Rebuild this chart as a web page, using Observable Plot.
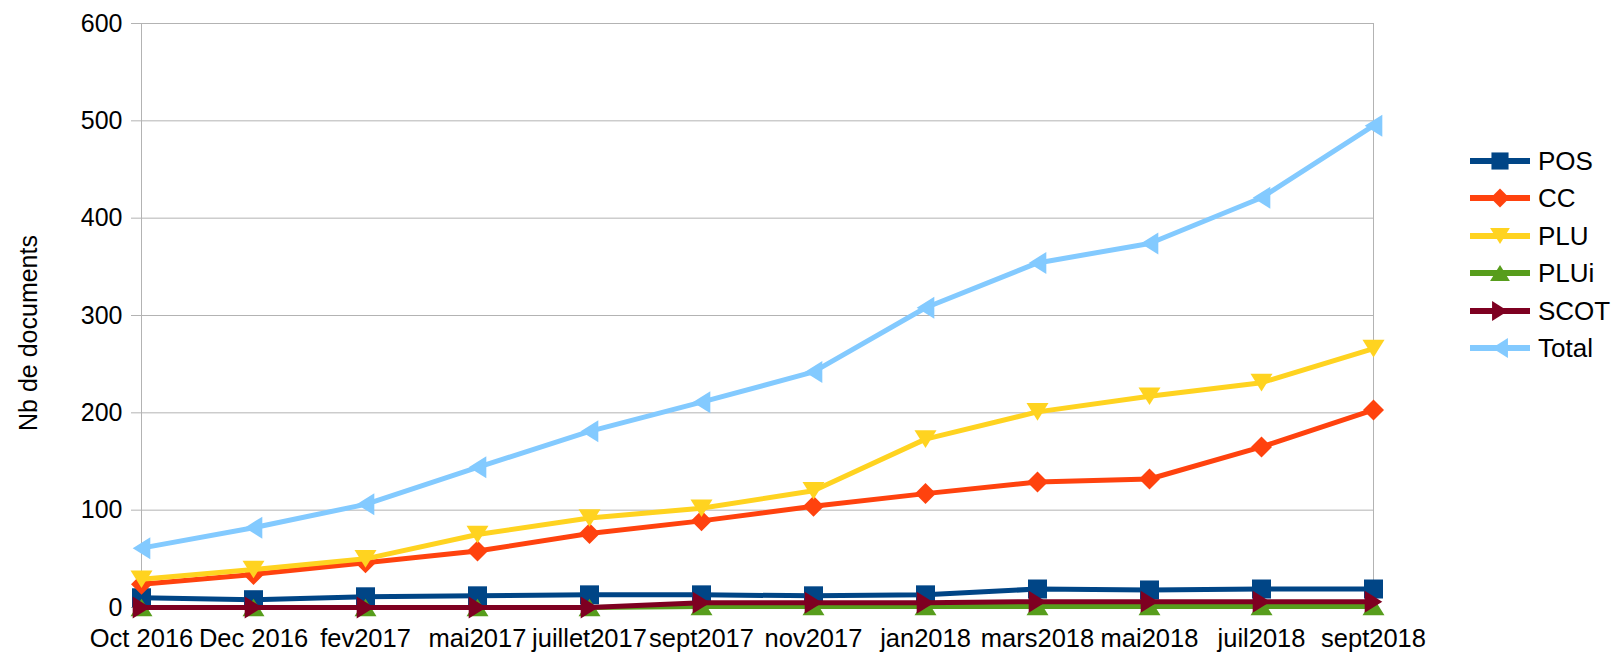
<!DOCTYPE html>
<html><head><meta charset="utf-8">
<script src="https://cdn.jsdelivr.net/npm/d3@7"></script>
<script src="https://cdn.jsdelivr.net/npm/@observablehq/plot@0.6"></script>
<style>
body{margin:0;background:#fff;}
#wrap{position:relative;width:1622px;height:660px;font-family:"Liberation Sans",Arial,sans-serif;color:#000;}
#ytitle{position:absolute;left:28px;top:333px;transform:translate(-50%,-50%) rotate(-90deg);font-size:25px;white-space:nowrap;}
.lrow{position:absolute;left:1470px;height:30px;display:flex;align-items:center;font-size:26px;}
.lrow svg{margin-right:8px;}
</style></head><body><div id="wrap"></div>
<script>
const months = ["Oct 2016","Dec 2016","fev2017","mai2017","juillet2017","sept2017","nov2017","jan2018","mars2018","mai2018","juil2018","sept2018"];
const POS   = [10, 8, 11, 12, 13, 13, 12, 13, 19, 18, 19, 19];
const CC    = [24, 34, 46, 58, 76, 89, 104, 117, 129, 132, 165, 203];
const PLU   = [29, 39, 50, 75, 92, 102, 120, 173, 201, 217, 231, 266];
const PLUi  = [0, 0, 0, 0, 0, 1, 1, 1, 1, 1, 1, 1];
const SCOT  = [0, 0, 0, 0, 0, 5, 5, 5, 6, 6, 6, 6];
const Total = [61, 82, 106, 144, 181, 211, 242, 308, 354, 374, 421, 495];
const seriesNames = ["POS","CC","PLU","PLUi","SCOT","Total"];
const seriesValues = [POS, CC, PLU, PLUi, SCOT, Total];
const colors = ["#004586","#ff420e","#ffd320","#579d1c","#7e0021","#83caff"];
const yTicks = [0,100,200,300,400,500,600];

const rad = s => Math.sqrt(s/Math.PI);
const symbols = {
  square:{draw(c,s){const r=rad(s);c.rect(-r,-r,2*r,2*r);}},
  diamond:{draw(c,s){const r=rad(s);c.moveTo(0,-r);c.lineTo(r,0);c.lineTo(0,r);c.lineTo(-r,0);c.closePath();}},
  down:{draw(c,s){const r=rad(s);c.moveTo(-r,-0.8*r);c.lineTo(r,-0.8*r);c.lineTo(0,0.8*r);c.closePath();}},
  up:{draw(c,s){const r=rad(s);c.moveTo(-r,0.8*r);c.lineTo(r,0.8*r);c.lineTo(0,-0.8*r);c.closePath();}},
  right:{draw(c,s){const r=rad(s);c.moveTo(-0.8*r,-r);c.lineTo(-0.8*r,r);c.lineTo(0.8*r,0);c.closePath();}},
  left:{draw(c,s){const r=rad(s);c.moveTo(0.8*r,-r);c.lineTo(0.8*r,r);c.lineTo(-0.8*r,0);c.closePath();}}
};
const symKeys = ["square","diamond","down","up","right","left"];
const symR = [9.5, 10.5, 11, 11, 11, 11];

const data = seriesNames.flatMap((s,k)=>months.map((m,i)=>({series:s, month:m, value:seriesValues[k][i]})));

const marks = [
  Plot.gridY(yTicks, {stroke:"#b3b3b3", strokeOpacity:1}),
  Plot.ruleX([months[0], months[months.length-1]], {stroke:"#b3b3b3"}),
  Plot.axisY(yTicks, {tickSize:9, tickPadding:9, stroke:"#b3b3b3", label:null, fontSize:25}),
  Plot.axisX({tickSize:7, tickPadding:14, stroke:"#b3b3b3", label:null, fontSize:25.5})
];
seriesNames.forEach((s,k)=>{
  const d = data.filter(e=>e.series===s);
  marks.push(Plot.line(d,{x:"month",y:"value",stroke:colors[k],strokeWidth:5}));
  marks.push(Plot.dot(d,{x:"month",y:"value",fill:colors[k],stroke:"none",r:symR[k],symbol:symbols[symKeys[k]]}));
});

const chart = Plot.plot({
  width:1622, height:660,
  marginLeft:140, marginRight:248, marginTop:23, marginBottom:53,
  style:{fontFamily:"'Liberation Sans', Arial, sans-serif", fontSize:"24px", color:"#000", background:"white", overflow:"visible"},
  x:{type:"point", domain:months, padding:0},
  y:{domain:[0,600]},
  marks
});
const wrap = document.getElementById("wrap");
wrap.appendChild(chart);

const yt = document.createElement("div");
yt.id="ytitle"; yt.textContent="Nb de documents";
wrap.appendChild(yt);

const rowY = [161,198,236,273,311,348];
seriesNames.forEach((s,k)=>{
  const row = document.createElement("div");
  row.className="lrow";
  row.style.top = (rowY[k]-15)+"px";
  const svg = d3.create("svg").attr("width",60).attr("height",30);
  svg.append("line").attr("x1",0).attr("x2",60).attr("y1",15).attr("y2",15).attr("stroke",colors[k]).attr("stroke-width",6);
  const r = symR[k]*0.9;
  svg.append("path").attr("transform","translate(30,15)").attr("fill",colors[k])
    .attr("d", d3.symbol(symbols[symKeys[k]], Math.PI*r*r)());
  row.appendChild(svg.node());
  const t = document.createElement("span"); t.textContent = s;
  row.appendChild(t);
  wrap.appendChild(row);
});
</script></body></html>
